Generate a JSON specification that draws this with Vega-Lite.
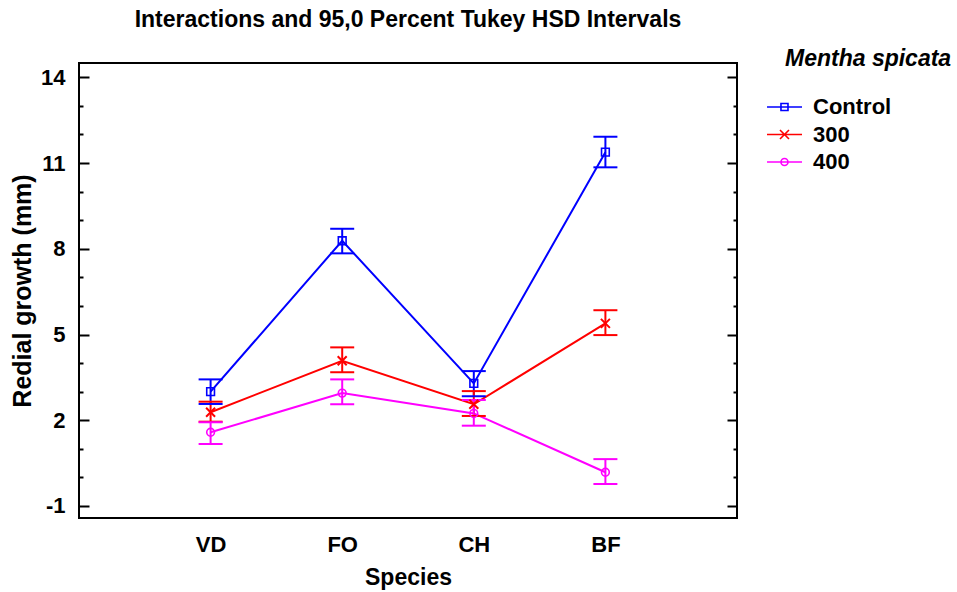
{
  "$schema": "https://vega.github.io/schema/vega-lite/v6.json",
  "width": 658,
  "height": 455,
  "autosize": "none",
  "padding": {"left": 79, "top": 63, "right": 220, "bottom": 74},
  "background": "white",
  "title": {
    "text": "Interactions and 95,0 Percent Tukey HSD Intervals",
    "font": "Liberation Sans",
    "fontSize": 23,
    "fontWeight": "bold",
    "color": "black",
    "anchor": "middle",
    "frame": "group",
    "offset": 16
  },
  "config": {
    "view": {"stroke": "black", "strokeWidth": 2},
    "axis": {
      "domain": false,
      "grid": false,
      "labelFont": "Liberation Sans",
      "labelFontWeight": "bold",
      "labelFontSize": 22,
      "labelColor": "black",
      "titleFont": "Liberation Sans",
      "titleFontWeight": "bold",
      "titleFontSize": 23,
      "titleColor": "black",
      "tickColor": "black",
      "tickWidth": 2
    }
  },
  "data": {
    "values": [
      {"species": "VD", "group": "Control", "mean": 3.0, "lo": 2.57, "hi": 3.43},
      {"species": "FO", "group": "Control", "mean": 8.28, "lo": 7.84, "hi": 8.7},
      {"species": "CH", "group": "Control", "mean": 3.29, "lo": 2.84, "hi": 3.72},
      {"species": "BF", "group": "Control", "mean": 11.38, "lo": 10.85, "hi": 11.92},
      {"species": "VD", "group": "300", "mean": 2.28, "lo": 1.95, "hi": 2.65},
      {"species": "FO", "group": "300", "mean": 4.08, "lo": 3.68, "hi": 4.55},
      {"species": "CH", "group": "300", "mean": 2.56, "lo": 2.15, "hi": 3.02},
      {"species": "BF", "group": "300", "mean": 5.39, "lo": 4.98, "hi": 5.85},
      {"species": "VD", "group": "400", "mean": 1.58, "lo": 1.17, "hi": 1.93},
      {"species": "FO", "group": "400", "mean": 2.95, "lo": 2.56, "hi": 3.43},
      {"species": "CH", "group": "400", "mean": 2.24, "lo": 1.81, "hi": 2.71},
      {"species": "BF", "group": "400", "mean": 0.18, "lo": -0.23, "hi": 0.64}
    ]
  },
  "encoding": {
    "x": {
      "field": "species",
      "type": "ordinal",
      "sort": ["VD", "FO", "CH", "BF"],
      "scale": {"type": "point", "padding": 1.09},
      "axis": {"title": "Species", "labelAngle": 0, "ticks": false, "labelPadding": 16, "titlePadding": 11}
    },
    "color": {
      "field": "group",
      "type": "nominal",
      "scale": {"domain": ["Control", "300", "400"], "range": ["#0000ff", "#ff0000", "#ff00ff"]},
      "legend": null
    }
  },
  "layer": [
    {
      "mark": {"type": "point", "filled": false, "strokeWidth": 1.6, "opacity": 0},
      "encoding": {
        "y": {"field": "mean", "type": "quantitative", "axis": null},
        "color": {
          "field": "group",
          "type": "nominal",
          "legend": {
            "title": "Mentha spicata",
            "orient": "none",
            "legendX": 706,
            "legendY": -15,
            "titleFont": "Liberation Sans",
            "titleFontSize": 23,
            "titleFontStyle": "italic",
            "titleFontWeight": "bold",
            "titleColor": "black",
            "titlePadding": 25,
            "labelFont": "Liberation Sans",
            "labelFontSize": 22,
            "labelFontWeight": "bold",
            "labelColor": "black",
            "labelOffset": 6,
            "symbolSize": 324,
            "symbolStrokeWidth": 1.6,
            "symbolOpacity": 1,
            "symbolFillColor": "white",
            "rowPadding": 5.5
          }
        },
        "shape": {
          "field": "group",
          "type": "nominal",
          "scale": {
            "domain": ["Control", "300", "400"],
            "range": [
              "M-3.22,0H0.67M-1.67,-0.39H-0.89V0.39H-1.67Z",
              "M-3.22,0H0.67M-1.78,-0.5L-0.78,0.5M-0.78,-0.5L-1.78,0.5",
              "M-3.22,0H0.67M-1.67,0A0.39,0.39,0,1,0,-0.89,0A0.39,0.39,0,1,0,-1.67,0"
            ]
          },
          "legend": {
            "title": "Mentha spicata",
            "orient": "none",
            "legendX": 706,
            "legendY": -15,
            "titleFont": "Liberation Sans",
            "titleFontSize": 23,
            "titleFontStyle": "italic",
            "titleFontWeight": "bold",
            "titleColor": "black",
            "titlePadding": 25,
            "labelFont": "Liberation Sans",
            "labelFontSize": 22,
            "labelFontWeight": "bold",
            "labelColor": "black",
            "labelOffset": 6,
            "symbolSize": 324,
            "symbolStrokeWidth": 1.6,
            "symbolOpacity": 1,
            "symbolFillColor": "white",
            "rowPadding": 5.5
          }
        }
      }
    },
    {
      "mark": {"type": "line", "strokeWidth": 2},
      "encoding": {
        "y": {
          "field": "mean",
          "type": "quantitative",
          "scale": {"domain": [-1.42, 14.5], "nice": false, "zero": false},
          "axis": {
            "title": "Redial growth (mm)",
            "titleFontSize": 25,
            "values": [-1, 0, 1, 2, 3, 4, 5, 6, 7, 8, 9, 10, 11, 12, 13, 14],
            "labelExpr": "(datum.value + 1) % 3 == 0 ? toString(datum.value) : ''",
            "tickSize": {"condition": {"test": "(datum.value + 1) % 3 == 0", "value": -10}, "value": -4},
            "labelPadding": 24,
            "titlePadding": 5
          }
        }
      }
    },
    {
      "mark": {"type": "rule", "strokeWidth": 2},
      "encoding": {
        "y": {
          "field": "lo",
          "type": "quantitative",
          "axis": {
            "orient": "right",
            "title": null,
            "labels": false,
            "values": [-1, 0, 1, 2, 3, 4, 5, 6, 7, 8, 9, 10, 11, 12, 13, 14],
            "tickSize": {"condition": {"test": "(datum.value + 1) % 3 == 0", "value": -10}, "value": -4}
          }
        },
        "y2": {"field": "hi"}
      }
    },
    {
      "mark": {"type": "point", "shape": "M-1,0H1", "size": 576, "filled": false, "strokeWidth": 2, "opacity": 1},
      "encoding": {"y": {"field": "lo", "type": "quantitative", "axis": null}}
    },
    {
      "mark": {"type": "point", "shape": "M-1,0H1", "size": 576, "filled": false, "strokeWidth": 2, "opacity": 1},
      "encoding": {"y": {"field": "hi", "type": "quantitative", "axis": null}}
    },
    {
      "transform": [{"filter": "datum.group == 'Control'"}],
      "mark": {"type": "point", "shape": "square", "size": 60, "filled": false, "strokeWidth": 1.6, "opacity": 1},
      "encoding": {"y": {"field": "mean", "type": "quantitative", "axis": null}}
    },
    {
      "transform": [{"filter": "datum.group == '300'"}],
      "mark": {"type": "point", "shape": "M-1,-1L1,1M1,-1L-1,1", "size": 81, "filled": false, "strokeWidth": 2, "opacity": 1},
      "encoding": {"y": {"field": "mean", "type": "quantitative", "axis": null}}
    },
    {
      "transform": [{"filter": "datum.group == '400'"}],
      "mark": {"type": "point", "shape": "circle", "size": 60, "filled": false, "strokeWidth": 1.6, "opacity": 1},
      "encoding": {"y": {"field": "mean", "type": "quantitative", "axis": null}}
    }
  ],
  "resolve": {"axis": {"y": "independent"}}
}
